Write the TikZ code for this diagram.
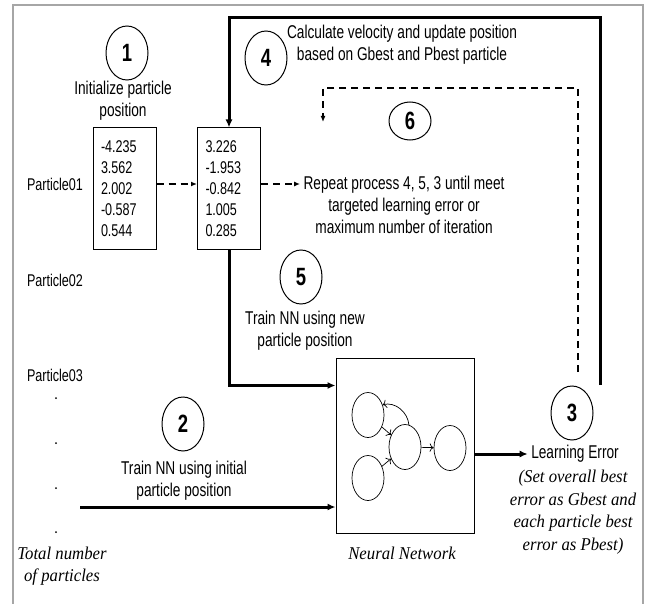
\documentclass[tikz,border=0pt]{standalone}
\usepackage{fontspec}
\setmainfont{Liberation Sans}[FakeStretch=0.74]
\newfontfamily\notefont{Liberation Serif}[FakeStretch=0.93]
\usetikzlibrary{arrows.meta,shapes.geometric}
\begin{document}
\begin{tikzpicture}[x=1pt,y=-1pt,>={Latex[length=8pt,width=7pt]},
    stepnum/.style={draw,ellipse,line width=1pt,minimum width=42pt,minimum height=54pt,inner sep=0pt,font=\fontsize{25}{25}\selectfont\bfseries},
    desc/.style={align=center,font=\fontsize{18.5}{22}\selectfont},
    notetext/.style={align=center,font=\fontsize{18}{22.5}\selectfont\notefont\itshape},
    plabel/.style={font=\fontsize{17}{17}\selectfont},
    valbox/.style={draw,line width=1pt,minimum width=63pt,minimum height=121pt,text width=47pt,inner xsep=8pt,align=left,font=\fontsize{17}{21}\selectfont},
    nnunit/.style={draw,ellipse,line width=0.7pt,minimum width=32pt,minimum height=45pt},
    nnlink/.style={-{To[length=4pt]},line width=0.7pt},
    flow/.style={->,line width=3pt},
    repeatline/.style={-{Latex[length=6pt,width=5pt]},line width=2pt,dash pattern=on 7pt off 5pt}]
  \useasboundingbox (0,0) rectangle (647,604);
  % frame
  \draw[gray!70,line width=1.5pt] (13,604) -- (13,5) -- (643,5) -- (643,604);

  % particles
  \node[plabel] (p01) at (55,184) {Particle01};
  \node[plabel] (p02) at (55,280) {Particle02};
  \node[plabel] (p03) at (55,375) {Particle03};
  \foreach \y in {398,443,488,532}
    \fill (56,\y) circle (1);
  \node[notetext] (total) at (62,566) {Total number\\of particles};

  \node[valbox] (pos1) at (124.5,188.5) {-4.235\\3.562\\2.002\\-0.587\\0.544};
  \node[valbox] (pos2) at (229,188.5) {3.226\\-1.953\\-0.842\\1.005\\0.285};

  % steps
  \node[stepnum] (s1) at (127,53) {1};
  \node[desc] (init) at (123,101) {Initialize particle\\position};
  \node[stepnum] (s4) at (266,58) {4};
  \node[desc] (calc) at (402,45) {Calculate velocity and update position\\based on Gbest and Pbest particle};
  \node[stepnum,minimum height=38pt] (s6) at (410,121) {6};
  \node[desc] (rep) at (404,205) {Repeat process 4, 5, 3 until meet\\targeted learning error or\\maximum number of iteration};
  \node[stepnum] (s5) at (301,277) {5};
  \node[desc] (trainnew) at (305,331) {Train NN using new\\particle position};
  \node[stepnum] (s2) at (183,424) {2};
  \node[desc] (traininit) at (184,481) {Train NN using initial\\particle position};
  \node[stepnum] (s3) at (572,413) {3};
  \node[desc] (lerr) at (575,454) {Learning Error};
  \node[notetext] (best) at (573,512) {(Set overall best\\error as Gbest and\\each particle best\\error as Pbest)};

  % neural network
  \node[draw,line width=1pt,minimum width=138pt,minimum height=175pt] (nn) at (405,445.5) {};
  \node[notetext] (nnname) at (402,553) {Neural Network};
  \node[nnunit] (nA) at (368,415) {};
  \node[nnunit] (nB) at (368,478) {};
  \node[nnunit] (nC) at (405,447) {};
  \node[nnunit] (nD) at (450,448) {};
  \draw[nnlink] (nA) -- (nC);
  \draw[nnlink] (nB) -- (nC);
  \draw[nnlink] (nC) -- (nD);
  \draw[nnlink] (nC.80) to[out=95,in=15] (nA.35);

  % connectors
  \draw[repeatline] (pos1.east |- p01) -- (pos2.west |- p01);
  \draw[repeatline] (pos2.east |- p01) -- (rep.west |- p01);
  \coordinate (back) at (600,385);
  \draw[flow] (back) -- ++(0,-367) -| (pos2.north);
  \draw[flow] (pos2.south) |- ([yshift=-28pt]nn.north west);
  \coordinate (src) at (80,507);
  \draw[flow] (src) -- (src -| nn.west);
  \draw[flow] (nn.east |- lerr) -- (lerr.west);
  \coordinate (ret) at (578,372);
  \coordinate (retend) at (323,122);
  \draw[repeatline] (ret) -- ++(0,-284) -| (retend);
\end{tikzpicture}
\end{document}
